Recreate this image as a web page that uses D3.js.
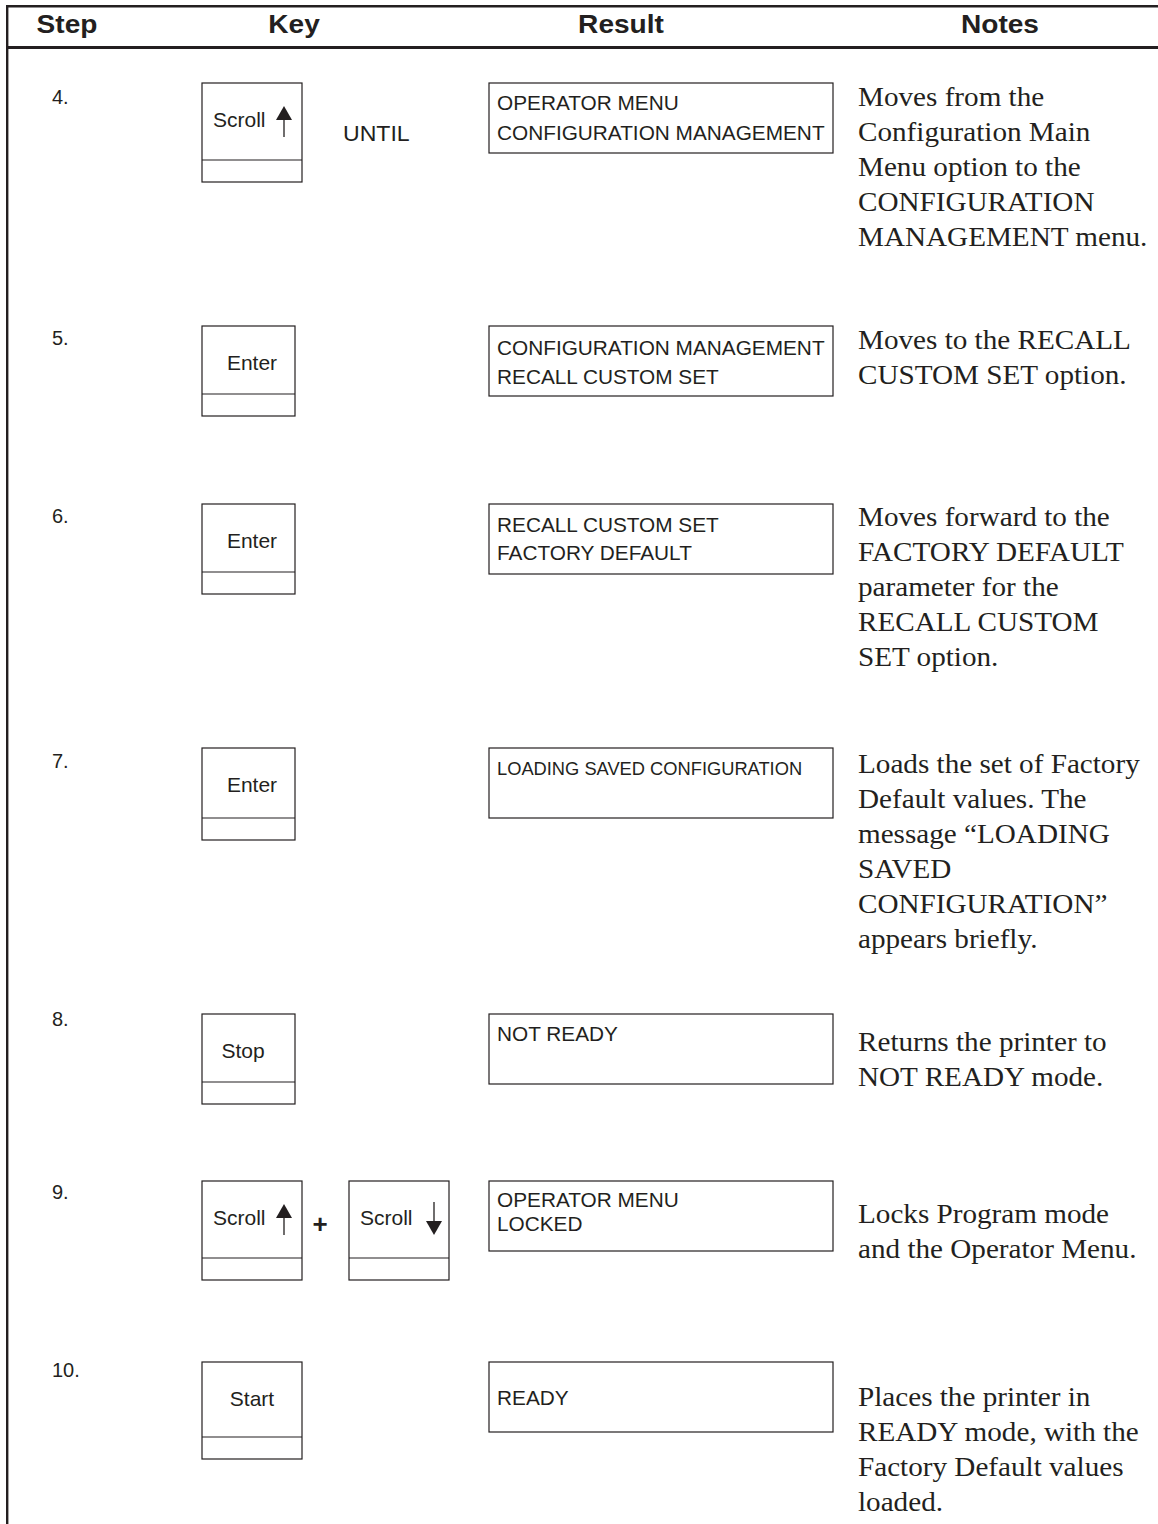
<!DOCTYPE html>
<html><head><meta charset="utf-8">
<script src="https://cdn.jsdelivr.net/npm/d3@7"></script>
<style>html,body{margin:0;padding:0;background:#fff;} svg{display:block}</style>
</head><body>
<script>
// ---------- data ----------
const headers = ["Step", "Key", "Result", "Notes"];
const steps = ["4.", "5.", "6.", "7.", "8.", "9.", "10."];
const keys = [["Scroll up"], ["Enter"], ["Enter"], ["Enter"], ["Stop"], ["Scroll up", "Scroll down"], ["Start"]];
const connectors = ["UNTIL", "", "", "", "", "+", ""];
const results = [
  ["OPERATOR MENU", "CONFIGURATION MANAGEMENT"],
  ["CONFIGURATION MANAGEMENT", "RECALL CUSTOM SET"],
  ["RECALL CUSTOM SET", "FACTORY DEFAULT"],
  ["LOADING SAVED CONFIGURATION"],
  ["NOT READY"],
  ["OPERATOR MENU", "LOCKED"],
  ["READY"]
];
const notes = [
  ["Moves from the", "Configuration Main", "Menu option to the", "CONFIGURATION", "MANAGEMENT menu."],
  ["Moves to the RECALL", "CUSTOM SET option."],
  ["Moves forward to the", "FACTORY DEFAULT", "parameter for the", "RECALL CUSTOM", "SET option."],
  ["Loads the set of Factory", "Default values. The", "message \u201cLOADING", "SAVED", "CONFIGURATION\u201d", "appears briefly."],
  ["Returns the printer to", "NOT READY mode."],
  ["Locks Program mode", "and the Operator Menu."],
  ["Places the printer in", "READY mode, with the", "Factory Default values", "loaded."]
];

// ---------- layout ----------
const W = 1158, H = 1524;
const INK = "#231f20";
const rowTop = [83, 326, 504, 748, 1014, 1181, 1362];
const keyBoxH = [99, 90, 90, 92, 90, 99, 97];
const stepDy = [21, 19, 19, 20, 12, 18, 15];
const resultDy = [[27, 57], [29, 58], [28, 56], [27], [27], [26, 50], [43]];
const resultFs = [20, 20, 20, 17.6, 20, 20, 20];
const notesDy = [23, 23, 22, 25, 37, 42, 44];

const xHead = d3.scaleOrdinal().domain(headers).range([67, 294, 621, 1000]);
const yRow = d3.scaleOrdinal().domain(steps).range(rowTop);

const svg = d3.select("body").append("svg").attr("width", W).attr("height", H);

function txt(g, s, x, y, opt) {
  const sx = opt.sx || 1;
  return g.append("text")
    .attr("transform", `translate(${x},${y}) scale(${sx},1)`)
    .attr("text-anchor", opt.anchor || "start")
    .attr("font-family", opt.family || "Liberation Sans, Arial, sans-serif")
    .attr("font-size", opt.size)
    .attr("font-weight", opt.weight || "normal")
    .attr("fill", INK)
    .text(s);
}

// frame lines
svg.append("line").attr("x1", 6).attr("x2", W).attr("y1", 6.2).attr("y2", 6.2)
  .attr("stroke", INK).attr("stroke-width", 2.4);
svg.append("line").attr("x1", 6).attr("x2", W).attr("y1", 47.5).attr("y2", 47.5)
  .attr("stroke", INK).attr("stroke-width", 3);
svg.append("line").attr("x1", 7.2).attr("x2", 7.2).attr("y1", 5).attr("y2", H)
  .attr("stroke", INK).attr("stroke-width", 2.4);

// headers
headers.forEach(h => txt(svg, h, xHead(h), 33.3, {anchor: "middle", size: 26, weight: "bold", sx: 1.08}));

function arrow(g, cx, top, dir) {
  if (dir === "up") {
    g.append("path").attr("d", `M${cx},${top} L${cx - 8},${top + 14} L${cx + 8},${top + 14} Z`).attr("fill", INK);
    g.append("line").attr("x1", cx).attr("x2", cx).attr("y1", top + 13).attr("y2", top + 31)
      .attr("stroke", INK).attr("stroke-width", 1.3);
  } else {
    g.append("line").attr("x1", cx).attr("x2", cx).attr("y1", top).attr("y2", top + 20)
      .attr("stroke", INK).attr("stroke-width", 1.3);
    g.append("path").attr("d", `M${cx - 8},${top + 19} L${cx + 8},${top + 19} L${cx},${top + 33} Z`).attr("fill", INK);
  }
}

const centerOff = {Enter: 50, Stop: 41, Start: 50};

steps.forEach((s, i) => {
  const top = yRow(s);
  const g = svg.append("g");
  // step number
  txt(g, s, 52, top + stepDy[i], {size: 20});
  // keys
  const keyX = [202, 349];
  keys[i].forEach((k, j) => {
    const isScroll = k.startsWith("Scroll");
    const w = (isScroll || k === "Start") ? 100 : 93;
    const x0 = keyX[j], h = keyBoxH[i];
    g.append("rect").attr("x", x0).attr("y", top).attr("width", w).attr("height", h)
      .attr("fill", "none").attr("stroke", INK).attr("stroke-width", 1.2);
    g.append("line").attr("x1", x0).attr("x2", x0 + w).attr("y1", top + h - 22).attr("y2", top + h - 22)
      .attr("stroke", INK).attr("stroke-width", 1.2);
    if (isScroll) {
      txt(g, "Scroll", x0 + 11, top + 44, {size: 21});
      if (k.endsWith("up")) arrow(g, x0 + 82, top + 23, "up");
      else arrow(g, x0 + 85, top + 21, "down");
    } else {
      txt(g, k, x0 + centerOff[k], top + 44, {size: 21, anchor: "middle"});
    }
  });
  // connector
  if (connectors[i] === "UNTIL") txt(g, "UNTIL", 343, top + 58, {size: 22, sx: 1.05});
  if (connectors[i] === "+") txt(g, "+", 320, top + 52, {size: 26, weight: "bold", anchor: "middle"});
  // result box
  g.append("rect").attr("x", 489).attr("y", top).attr("width", 344).attr("height", 70)
    .attr("fill", "none").attr("stroke", INK).attr("stroke-width", 1.2);
  results[i].forEach((r, j) => txt(g, r, 497, top + resultDy[i][j], {size: resultFs[i], sx: 1.04}));
  // notes
  notes[i].forEach((n, j) => txt(g, n, 858, top + notesDy[i] + j * 35,
    {size: 27, family: "Liberation Serif, Times New Roman, serif", sx: 1.08}));
});
</script>
</body></html>
